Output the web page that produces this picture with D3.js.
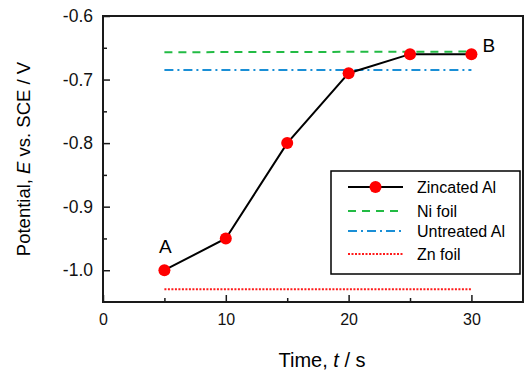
<!DOCTYPE html>
<html>
<head>
<meta charset="utf-8">
<script src="https://cdn.jsdelivr.net/npm/d3@7"></script>
<style>
body { margin: 0; background: #fff; }
text { font-family: "Liberation Sans", Arial, sans-serif; }
</style>
</head>
<body>
<div class="chart"></div>
<script>
var width = 528, height = 376;

// data
var times = [5, 10, 15, 20, 25, 30];
var zincated = [-1.0, -0.95, -0.8, -0.69, -0.66, -0.66];
var niFoil = [-0.657, -0.656];
var untreatedAl = [-0.685, -0.685];
var znFoil = [-1.03, -1.03];
var refTimes = [5, 30];
var xTicks = [0, 10, 20, 30];
var yTicks = [-0.6, -0.7, -0.8, -0.9, -1.0];

var margin = {left: 103, top: 16, right: 5, bottom: 74};

var svg = d3.select(".chart").append("svg").attr("width", width).attr("height", height);

var x = d3.scaleLinear().domain([0, 34.2]).range([margin.left, width - margin.right]);
var y = d3.scaleLinear().domain([-1.05, -0.6]).range([height - margin.bottom, margin.top]);

// frame
svg.append("rect")
	.attr("x", x(0)).attr("y", y(-0.6))
	.attr("width", x(34.2) - x(0)).attr("height", y(-1.05) - y(-0.6))
	.style("fill", "none").style("stroke", "#1a1a1a").style("stroke-width", 2);

// axes with inward ticks
var xAxis = svg.append("g").attr("transform", "translate(0," + y(-1.05) + ")")
	.call(d3.axisBottom(x).tickValues(xTicks).tickSizeInner(-7).tickSizeOuter(0).tickPadding(12).tickFormat(d3.format("d")));
svg.append("g").attr("transform", "translate(0," + y(-1.05) + ")")
	.call(d3.axisBottom(x).tickValues([5, 15, 25]).tickSizeInner(-4).tickSizeOuter(0).tickFormat(""));
var yAxis = svg.append("g").attr("transform", "translate(" + x(0) + ",0)")
	.call(d3.axisLeft(y).tickValues(yTicks).tickSizeInner(-7).tickSizeOuter(0).tickPadding(10).tickFormat(d3.format(".1f")));
svg.append("g").attr("transform", "translate(" + x(0) + ",0)")
	.call(d3.axisLeft(y).tickValues([-0.65, -0.75, -0.85, -0.95]).tickSizeInner(-4).tickSizeOuter(0).tickFormat(""));

svg.selectAll(".domain").remove();
svg.selectAll(".tick line").style("stroke", "#1a1a1a").style("stroke-width", 1.5);
svg.selectAll(".tick text").style("font-size", "16px").style("fill", "#111")
	.style("font-family", "'Liberation Sans', Arial, sans-serif");
yAxis.selectAll(".tick text").style("font-size", "17.5px")
	.text(function(d) { return d3.format(".1f")(d).replace("−", "-"); });

// reference lines
var line = d3.line().x(function(d) { return x(d[0]); }).y(function(d) { return y(d[1]); });
function pairs(vals) { return refTimes.map(function(t, i) { return [t, vals[i]]; }); }

svg.append("path").datum(pairs(niFoil)).attr("d", line)
	.style("fill", "none").style("stroke", "#22bb44").style("stroke-width", 2).style("stroke-dasharray", "8,6");
svg.append("path").datum(pairs(untreatedAl)).attr("d", line)
	.style("fill", "none").style("stroke", "#1a8fd6").style("stroke-width", 2).style("stroke-dasharray", "9,4,2,4");
svg.append("path").datum(pairs(znFoil)).attr("d", line)
	.style("fill", "none").style("stroke", "#ff1a1a").style("stroke-width", 2).style("stroke-dasharray", "2,1.5");

// zincated Al
var zin = times.map(function(t, i) { return [t, zincated[i]]; });
svg.append("path").datum(zin).attr("d", line)
	.style("fill", "none").style("stroke", "#000").style("stroke-width", 2);
svg.append("g").selectAll("circle").data(zin).enter().append("circle")
	.attr("cx", function(d) { return x(d[0]); })
	.attr("cy", function(d) { return y(d[1]); })
	.attr("r", 6).style("fill", "#ff0000");

// point labels
svg.append("text").attr("x", x(5) + 1).attr("y", y(zincated[0]) - 17).attr("text-anchor", "middle")
	.style("font-size", "19px").text("A");
svg.append("text").attr("x", x(30) + 11).attr("y", y(zincated[5]) - 2)
	.style("font-size", "19px").text("B");

// legend
var legend = svg.append("g").attr("transform", "translate(331,171)");
legend.append("rect").attr("width", 189).attr("height", 103)
	.style("fill", "#fff").style("stroke", "#000").style("stroke-width", 1.5);
var legendItems = [
	{name: "Zincated Al", color: "#000", dash: null, marker: true},
	{name: "Ni foil", color: "#22bb44", dash: "8,6"},
	{name: "Untreated Al", color: "#1a8fd6", dash: "9,4,2,4"},
	{name: "Zn foil", color: "#ff1a1a", dash: "2,1.5"}
];
var rowY = [16, 40, 60, 83];
legendItems.forEach(function(it, i) {
	legend.append("line").attr("x1", 17).attr("x2", 72).attr("y1", rowY[i]).attr("y2", rowY[i])
		.style("stroke", it.color).style("stroke-width", 2).style("stroke-dasharray", it.dash);
	if (it.marker) legend.append("circle").attr("cx", 44.5).attr("cy", rowY[i]).attr("r", 6).style("fill", "#ff0000");
	legend.append("text").attr("x", 86).attr("y", rowY[i]).attr("dy", "0.35em")
		.style("font-size", "16px").text(it.name);
});

// axis titles
svg.append("text").attr("x", 322).attr("y", 367).attr("text-anchor", "middle")
	.style("font-size", "20px")
	.html("Time, <tspan font-style='italic'>t</tspan> / s");
svg.append("text").attr("transform", "translate(30,159) rotate(-90)").attr("text-anchor", "middle")
	.style("font-size", "18.5px")
	.html("Potential, <tspan font-style='italic'>E</tspan> vs. SCE / V");
</script>
</body>
</html>
